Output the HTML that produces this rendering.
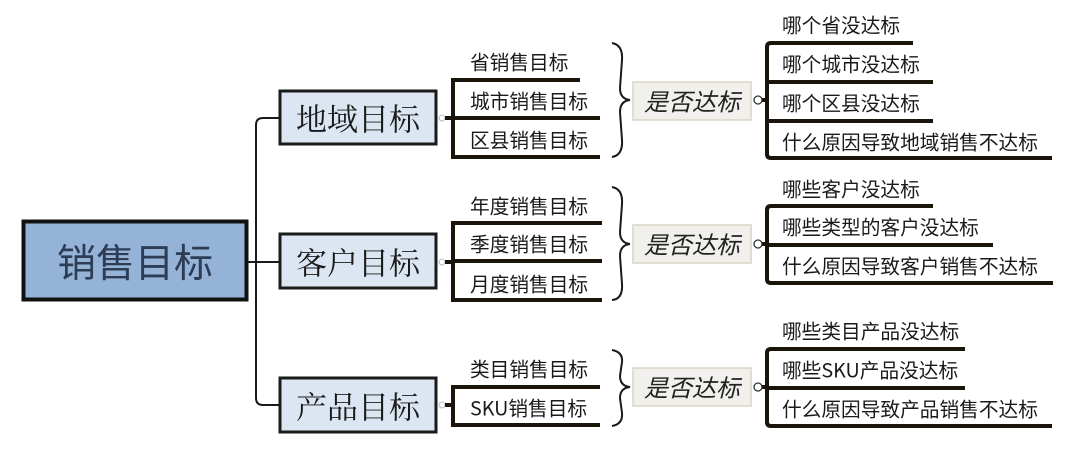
<!DOCTYPE html>
<html><head><meta charset="utf-8"><style>
html,body{margin:0;padding:0;background:#fff;width:1080px;height:453px;overflow:hidden}
svg text{font-family:"Liberation Serif","Noto Sans CJK SC",sans-serif;fill:#1a1a1a}
.l{font-size:19.7px;font-family:"Noto Sans CJK SC",sans-serif}
.c{font-size:31px;font-family:"Noto Serif CJK SC","Noto Sans CJK SC",serif}
.q{font-size:24px;font-style:italic;font-family:"Noto Sans CJK SC",sans-serif;fill:#222}
</style></head><body>
<svg width="1080" height="453" viewBox="0 0 1080 453" xmlns="http://www.w3.org/2000/svg">
<g fill="none" stroke="#1a1a1a" stroke-width="2">
<path d="M248,262 H279"/>
<path d="M279,118 H263 Q256,118 256,125 V398 Q256,405 263,405 H279"/>
</g>
<rect x="23.5" y="221.5" width="223" height="78" fill="#95b3d7" stroke="#111" stroke-width="4"/>
<text x="135" y="261" text-anchor="middle" dominant-baseline="central" style="font-size:39px;font-family:'Noto Sans CJK SC',sans-serif;fill:#2d3d55">销售目标</text>
<g fill="#dce6f2" stroke="#1a1a1a" stroke-width="3">
<rect x="280" y="91" width="156" height="53"/>
<rect x="280" y="234" width="156" height="54"/>
<rect x="280" y="378" width="156" height="54"/>
</g>
<text class="c" x="358" y="117" text-anchor="middle" dominant-baseline="central">地域目标</text>
<text class="c" x="358" y="261" text-anchor="middle" dominant-baseline="central">客户目标</text>
<text class="c" x="358" y="405" text-anchor="middle" dominant-baseline="central">产品目标</text>
<g fill="#fff" stroke="#b8bcd0" stroke-width="1">
<circle cx="442" cy="118" r="3"/><circle cx="442" cy="262" r="3"/><circle cx="442" cy="405" r="3"/>
</g>
<g fill="none" stroke="#1a140a" stroke-width="4">
<path d="M580,80 H453 V157 H600 M453,118 H600"/>
<path d="M602,223 H453 V300 H602 M453,261 H602"/>
<path d="M600,387 H453 V425 H600"/>
<path d="M445,118 H453 M445,262 H453 M445,405 H453"/>
</g>
<text class="l" x="470" y="61" dominant-baseline="central">省销售目标</text>
<text class="l" x="470" y="100" dominant-baseline="central">城市销售目标</text>
<text class="l" x="470" y="139" dominant-baseline="central">区县销售目标</text>
<text class="l" x="470" y="205" dominant-baseline="central">年度销售目标</text>
<text class="l" x="470" y="243" dominant-baseline="central">季度销售目标</text>
<text class="l" x="470" y="283" dominant-baseline="central">月度销售目标</text>
<text class="l" x="470" y="368" dominant-baseline="central">类目销售目标</text>
<text class="l" x="470" y="407" dominant-baseline="central">SKU销售目标</text>
<g fill="none" stroke="#1a1a1a" stroke-width="2">
<path d="M612,43 Q623,45 622,60 L620,88 Q620,99 630,100 Q620,101 620,112 L622,140 Q623,155 612,157"/>
<path d="M612,187 Q623,189 622,204 L620,232 Q620,243 630,244 Q620,245 620,256 L622,284 Q623,299 612,300"/>
<path d="M612,350 Q623,352 622,362 L620,376 Q620,386 630,387 Q620,388 620,398 L622,413 Q623,424 612,426"/>
</g>
<g fill="#f1f0ec" stroke="#d9d5c3" stroke-width="1.5">
<rect x="633" y="82" width="118" height="38"/>
<rect x="633" y="225" width="118" height="38"/>
<rect x="633" y="368" width="118" height="38"/>
</g>
<text class="q" x="692" y="100" text-anchor="middle" dominant-baseline="central">是否达标</text>
<text class="q" x="692" y="243" text-anchor="middle" dominant-baseline="central">是否达标</text>
<text class="q" x="692" y="386" text-anchor="middle" dominant-baseline="central">是否达标</text>
<g fill="none" stroke="#1a140a" stroke-width="4">
<path d="M913,43 H771 Q767,43 767,47 V154 Q767,158 771,158 H1052 M767,82 H933 M767,121 H933"/>
<path d="M933,206 H771 Q767,206 767,210 V279 Q767,283 771,283 H1053 M767,245 H993"/>
<path d="M965,349 H771 Q767,349 767,353 V422 Q767,426 771,426 H1052 M767,388 H965"/>
<path d="M762,100 H767 M762,244 H767 M762,387 H767"/>
</g>
<g fill="#fff" stroke="#333" stroke-width="1.3">
<circle cx="758" cy="100" r="4"/><circle cx="758" cy="244" r="4"/><circle cx="758" cy="387" r="4"/>
</g>
<text class="l" x="782" y="24" dominant-baseline="central">哪个省没达标</text>
<text class="l" x="782" y="63" dominant-baseline="central">哪个城市没达标</text>
<text class="l" x="782" y="102" dominant-baseline="central">哪个区县没达标</text>
<text class="l" x="782" y="141" dominant-baseline="central">什么原因导致地域销售不达标</text>
<text class="l" x="782" y="188" dominant-baseline="central">哪些客户没达标</text>
<text class="l" x="782" y="226" dominant-baseline="central">哪些类型的客户没达标</text>
<text class="l" x="782" y="265" dominant-baseline="central">什么原因导致客户销售不达标</text>
<text class="l" x="782" y="330" dominant-baseline="central">哪些类目产品没达标</text>
<text class="l" x="782" y="369" dominant-baseline="central">哪些SKU产品没达标</text>
<text class="l" x="782" y="408" dominant-baseline="central">什么原因导致产品销售不达标</text>
</svg>
</body></html>
